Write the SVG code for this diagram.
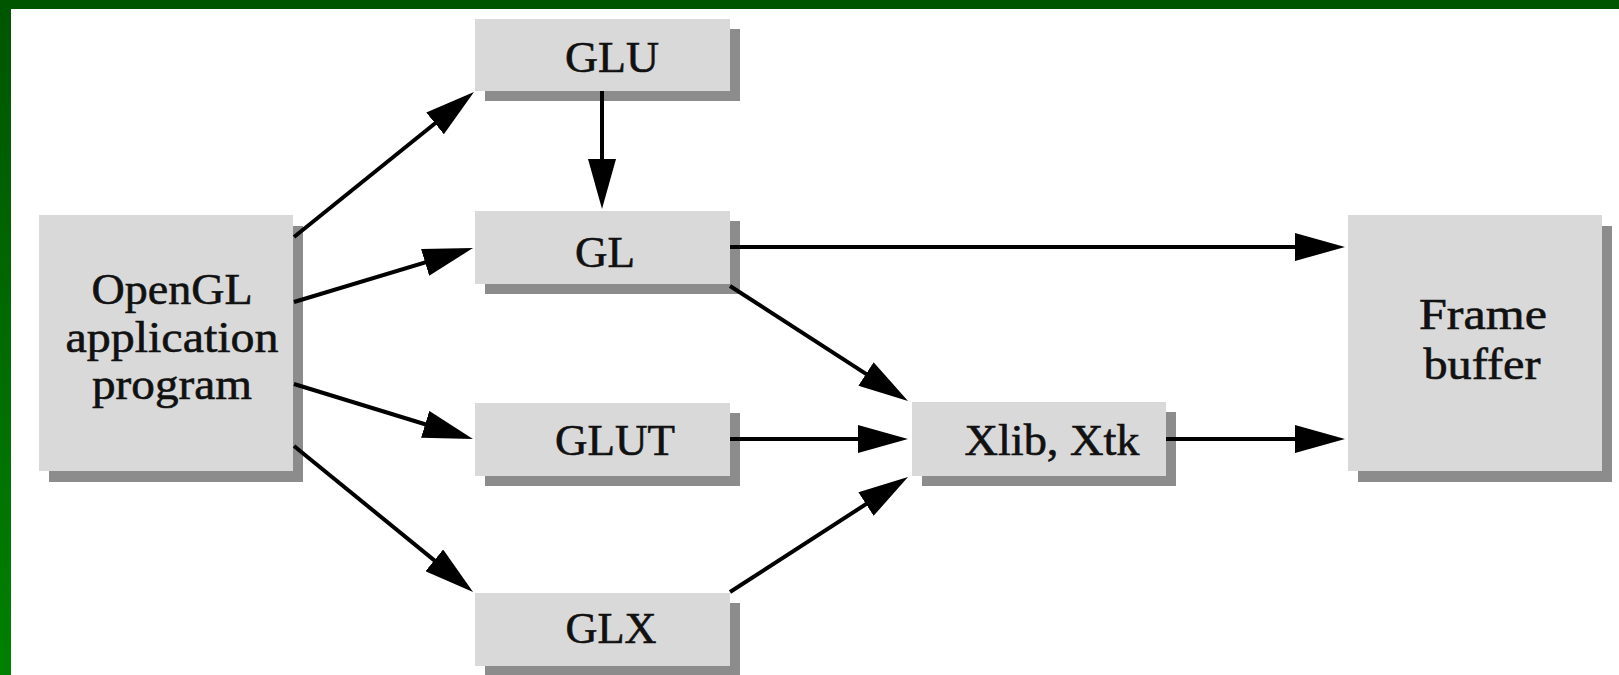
<svg xmlns="http://www.w3.org/2000/svg" width="1619" height="675" viewBox="0 0 1619 675">
<style>
.box{fill:#d9d9d9}
.shadow{fill:#8c8c8c}
.lbl{font-family:"Liberation Serif","Times New Roman",serif;font-size:44px;fill:#111;stroke:#111;stroke-width:0.6;text-anchor:middle}
.conn{stroke:#000;stroke-width:4;fill:none;marker-end:url(#arrow)}
</style>
<defs>
<marker id="arrow" viewBox="0 0 50 28" refX="40" refY="14" markerWidth="50" markerHeight="28" markerUnits="userSpaceOnUse" orient="auto">
<path d="M0,0 L50,14 L0,28 z" fill="#000"/>
</marker>
<linearGradient id="gborder" x1="0" y1="0" x2="0" y2="1">
<stop offset="0" stop-color="#005500"/>
<stop offset="1" stop-color="#008000"/>
</linearGradient>
</defs>
<rect x="0" y="0" width="1619" height="675" fill="#ffffff"/>
<rect x="0" y="0" width="1619" height="9" fill="#005500"/>
<rect x="0" y="0" width="11" height="675" fill="url(#gborder)"/>

<g id="node-opengl">
<rect class="shadow" x="49" y="226" width="254" height="256"/>
<rect class="box" x="39" y="215" width="254" height="256"/>
<text class="lbl" x="172" y="304" textLength="161" lengthAdjust="spacingAndGlyphs">OpenGL</text>
<text class="lbl" x="172" y="352" textLength="213" lengthAdjust="spacingAndGlyphs">application</text>
<text class="lbl" x="172" y="399" textLength="160" lengthAdjust="spacingAndGlyphs">program</text>
</g>
<g id="node-glu">
<rect class="shadow" x="485" y="29" width="255" height="72"/>
<rect class="box" x="475" y="19" width="255" height="72"/>
<text class="lbl" x="612" y="72" textLength="94" lengthAdjust="spacingAndGlyphs">GLU</text>
</g>
<g id="node-gl">
<rect class="shadow" x="485" y="221" width="255" height="73"/>
<rect class="box" x="475" y="211" width="255" height="73"/>
<text class="lbl" x="605" y="267" textLength="60" lengthAdjust="spacingAndGlyphs">GL</text>
</g>
<g id="node-glut">
<rect class="shadow" x="485" y="413" width="255" height="73"/>
<rect class="box" x="475" y="403" width="255" height="73"/>
<text class="lbl" x="615" y="455" textLength="120" lengthAdjust="spacingAndGlyphs">GLUT</text>
</g>
<g id="node-glx">
<rect class="shadow" x="485" y="603" width="255" height="73"/>
<rect class="box" x="475" y="593" width="255" height="73"/>
<text class="lbl" x="611" y="643" textLength="91" lengthAdjust="spacingAndGlyphs">GLX</text>
</g>
<g id="node-xlib">
<rect class="shadow" x="922" y="412" width="254" height="74"/>
<rect class="box" x="912" y="402" width="254" height="74"/>
<text class="lbl" x="1052" y="455" textLength="175" lengthAdjust="spacingAndGlyphs">Xlib, Xtk</text>
</g>
<g id="node-framebuffer">
<rect class="shadow" x="1358" y="226" width="254" height="256"/>
<rect class="box" x="1348" y="215" width="254" height="256"/>
<text class="lbl" x="1483" y="329" textLength="128" lengthAdjust="spacingAndGlyphs">Frame</text>
<text class="lbl" x="1482" y="379" textLength="117" lengthAdjust="spacingAndGlyphs">buffer</text>
</g>

<g id="connectors">
<line class="conn" x1="294" y1="237" x2="466.2" y2="98.3"/>
<line class="conn" x1="294" y1="302" x2="463.4" y2="250.9"/>
<line class="conn" x1="294" y1="384" x2="463.4" y2="436"/>
<line class="conn" x1="294" y1="446" x2="465.3" y2="585.6"/>
<line class="conn" x1="602" y1="91" x2="602" y2="199"/>
<line class="conn" x1="730" y1="247" x2="1335" y2="247"/>
<line class="conn" x1="730" y1="286" x2="899.6" y2="395.6"/>
<line class="conn" x1="730" y1="439" x2="898" y2="439"/>
<line class="conn" x1="730" y1="592" x2="899.6" y2="482.4"/>
<line class="conn" x1="1166" y1="439" x2="1335" y2="439"/>
</g>
</svg>
